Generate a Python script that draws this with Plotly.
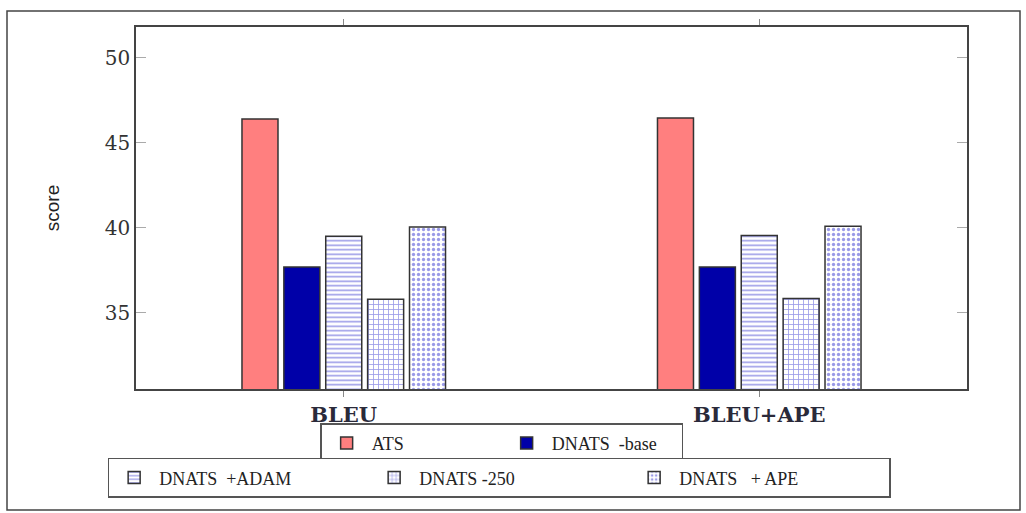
import plotly.graph_objects as go

categories = ["BLEU", "BLEU+APE"]
series_names = ["ATS", "DNATS  -base", "DNATS  +ADAM", "DNATS -250", "DNATS   + APE"]
ats = [46.4, 46.45]
dnats_base = [37.7, 37.7]
dnats_adam = [39.5, 39.55]
dnats_250 = [35.8, 35.85]
dnats_ape = [40.05, 40.1]
y_ticks = [35, 40, 45, 50]

values = [ats, dnats_base, dnats_adam, dnats_250, dnats_ape]
fills = ["#FF7F7F", "#0000A8", "white", "white", "white"]
patterns = ["", "", "-", "+", "."]
pat_sizes = [0, 0, 4.5, 5, 5]
pat_solid = [0, 0, 0.35, 0.3, 0.35]
legends = ["legend", "legend", "legend2", "legend2", "legend2"]

fig = go.Figure()
for name, vals, fc, pat, ps, so, lg in zip(series_names, values, fills, patterns, pat_sizes, pat_solid, legends):
    marker = dict(color=fc, line=dict(color="#333333", width=1.5))
    if pat:
        marker["pattern"] = dict(shape=pat, fgcolor="#3535d0", bgcolor="white", size=ps, solidity=so)
    fig.add_trace(go.Bar(x=categories, y=vals, name=name, marker=marker, legend=lg))

serif = "Liberation Serif"
fig.update_layout(
    width=1026, height=513,
    margin=dict(l=136, r=59, t=27, b=124, autoexpand=False),
    paper_bgcolor="white", plot_bgcolor="white",
    barmode="group", bargap=0.496, bargroupgap=0.14,
    font=dict(family=serif, color="#222222"),
    legend=dict(orientation="h", x=0.44, xanchor="center", y=-0.095, yanchor="top",
                bordercolor="#555555", borderwidth=1.5, font=dict(size=18, family=serif),
                entrywidth=125, itemwidth=40, tracegroupgap=0),
    legend2=dict(orientation="h", x=0.437, xanchor="center", y=-0.19, yanchor="top",
                 bordercolor="#555555", borderwidth=1.5, font=dict(size=18, family=serif),
                 entrywidth=205, itemwidth=40, tracegroupgap=0),
    showlegend=True,
)
fig.update_xaxes(
    range=[-0.5, 1.5], showline=True, linecolor="#444444", linewidth=1.5, mirror="ticks",
    ticks="outside", ticklen=6, tickcolor="#888888", automargin=False,
    tickfont=dict(size=21, family="DejaVu Serif", color="#2a2a3a"),
    tickprefix="<b>", ticksuffix="</b>",
    showgrid=False, zeroline=False,
)
fig.update_yaxes(
    range=[30.53, 51.8], tickvals=y_ticks, showline=True, linecolor="#444444", linewidth=1.5,
    mirror="ticks", ticks="inside", ticklen=10, tickcolor="#aaaaaa", automargin=False,
    tickfont=dict(size=20, family="DejaVu Serif", color="#333333"),
    tickprefix="<b>", ticksuffix="</b>",
    title=dict(text="score", font=dict(size=19, family="Liberation Sans Narrow, Liberation Sans", color="#222222"), standoff=40),
    showgrid=False, zeroline=False,
)
fig.add_shape(type="rect", xref="paper", yref="paper",
              x0=(7 - 136) / 831, x1=(1020 - 136) / 831,
              y0=(389 - 510) / 362, y1=(389 - 11) / 362,
              line=dict(color="#444444", width=1.5), fillcolor="rgba(0,0,0,0)", layer="below")
fig.write_html("out.html", config={"displayModeBar": False},
               post_script="document.body.style.margin='0px';document.body.style.overflow='hidden';")
